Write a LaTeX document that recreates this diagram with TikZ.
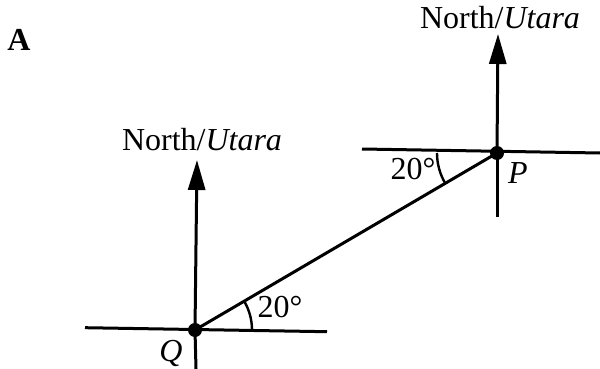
\documentclass[tikz,border=0pt]{standalone}
\usepackage{fontspec}
\setmainfont{Liberation Serif}
\usetikzlibrary{arrows.meta}
\begin{document}
\begin{tikzpicture}[x=1pt,y=-1pt,line width=3pt,
  north/.style={-{Triangle[length=30pt,width=17pt]}},
  dot/.style={circle,fill,inner sep=0pt,minimum size=14pt},
  lbl/.style={font=\fontsize{32}{36}\selectfont,inner sep=0pt}]
\useasboundingbox (0,0) rectangle (600,369);
\path node[dot] (Q) at (195,330) {}
node[dot] (P) at (497,153) {}
coordinate (QW) at (85,327.7)
coordinate (QE) at (327,331.7)
coordinate (QS) at (196,369)
coordinate (QT) at (197,160)
coordinate (PW) at (362,149)
coordinate (PE) at (600,153)
coordinate (PS) at (497,217)
coordinate (PT) at (498,34)
node[lbl] (QN) at (202,140) {North/\textit{Utara}}
node[lbl] (PN) at (500,18) {North/\textit{Utara}}
node[lbl] (QA) at (280,307) {20°}
node[lbl] (PA) at (413,169) {20°}
node[lbl] (QL) at (171,353) {\textit{Q}}
node[lbl] (PL) at (518,173) {\textit{P}}
node[lbl] (A) at (19,40) {\textbf{A}}
;
\draw   (QW) -- (QE);
\draw   (QS) -- (Q.center);
\draw[north] (Q.center) -- (QT);
\draw   (PW) -- (PE);
\draw   (PS) -- (P.center);
\draw[north] (P.center) -- (PT);
\draw   (Q.center) -- (P.center);
% angle arcs
\draw[line width=2.4pt] ([xshift=57pt]Q.center) arc[start angle=0,end angle=30.4,radius=57pt];
\draw[line width=2.4pt] ([xshift=-60pt]P.center) arc[start angle=180,end angle=210.4,radius=60pt];
\end{tikzpicture}
\end{document}
